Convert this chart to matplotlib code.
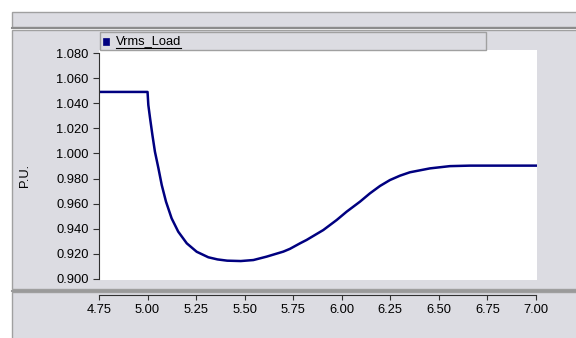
import matplotlib
matplotlib.use("Agg")
import matplotlib.pyplot as plt
from matplotlib.patches import Rectangle
from matplotlib.lines import Line2D

# data (time in s, voltage in p.u.)
time_s = [4.75, 5.000, 5.004, 5.013, 5.025, 5.038, 5.056, 5.073, 5.095, 5.124,
          5.158, 5.202, 5.253, 5.313, 5.360, 5.410, 5.480, 5.545, 5.613, 5.699,
          5.733, 5.785, 5.819, 5.905, 5.974, 6.025, 6.094, 6.145, 6.197, 6.248,
          6.300, 6.351, 6.454, 6.557, 6.660, 6.80, 7.00]
vrms_load = [1.0490, 1.0490, 1.0386, 1.0280, 1.0147, 1.0014, 0.9882, 0.9749, 0.9616, 0.9483,
             0.9377, 0.9284, 0.9217, 0.9173, 0.9156, 0.9146, 0.9143, 0.9151, 0.9178, 0.9218,
             0.9240, 0.9284, 0.9311, 0.9390, 0.9470, 0.9536, 0.9616, 0.9682, 0.9741, 0.9788,
             0.9823, 0.9850, 0.9881, 0.9899, 0.9903, 0.9903, 0.9903]
series_name = "Vrms_Load"
y_ticks = [0.900, 0.920, 0.940, 0.960, 0.980, 1.000, 1.020, 1.040, 1.060, 1.080]
x_ticks = [4.75, 5.00, 5.25, 5.50, 5.75, 6.00, 6.25, 6.50, 6.75, 7.00]

W, H = 576, 338
panel = "#dcdce2"
border = "#a0a0a0"
navy = "#000080"
plt.rcParams['font.family'] = ['Liberation Sans', 'DejaVu Sans']
plt.rcParams['font.size'] = 9.3


def fx(px):
    return px / W


def fy(py):
    return 1 - py / H


def box(x0, y0, x1, y1, **kw):
    r = Rectangle((fx(x0), fy(y1)), (x1 - x0) / W, (y1 - y0) / H,
                  transform=fig.transFigure, **kw)
    fig.add_artist(r)
    return r


def hline(x0, x1, y, **kw):
    fig.add_artist(Line2D([fx(x0), fx(x1)], [fy(y), fy(y)],
                          transform=fig.transFigure, **kw))


fig = plt.figure(figsize=(W / 100, H / 100), dpi=100, facecolor="white")

# background panels
box(12, 12, 580, 27, facecolor=panel, edgecolor=border, lw=1, zorder=-2)
hline(12, 580, 27.5, color="#8c8c8c", lw=1.5, zorder=-1)
box(12, 30, 580, 289, facecolor=panel, edgecolor=border, lw=1, zorder=-2)
hline(12, 580, 290.7, color="#9a9a9a", lw=1.5, zorder=-1)
box(12, 292, 580, 345, facecolor=panel, edgecolor=border, lw=1, zorder=-2)

# main plot
ax = fig.add_axes([fx(99), fy(280), (537 - 99) / W, (280 - 50) / H])
ax.set_facecolor("white")
ax.plot(time_s, vrms_load, color=navy, lw=1.8, solid_joinstyle="round")
ax.set_xlim(4.75, 4.75 + 438 / 194.2)
ax.set_ylim(0.8992, 1.0824)
for s in ["top", "right", "bottom"]:
    ax.spines[s].set_visible(False)
ax.spines["left"].set_bounds(0.900, 1.080)
ax.spines["left"].set_color("#303030")
ax.set_yticks(y_ticks)
ax.set_yticklabels([f"{v:.3f}" for v in y_ticks])
ax.tick_params(axis="y", direction="out", length=4.5, width=0.8, color="#303030", pad=3)
ax.set_xticks([])

# separate x axis in the bottom panel
axx = fig.add_axes([fx(99), fy(295), (537 - 99) / W, 0.001])
axx.patch.set_visible(False)
for s in ["top", "right", "left"]:
    axx.spines[s].set_visible(False)
axx.spines["bottom"].set_color("#303030")
axx.set_xlim(ax.get_xlim())
axx.spines["bottom"].set_bounds(4.75, 7.00)
axx.set_yticks([])
axx.set_xticks(x_ticks)
axx.set_xticklabels([f"{v:.2f}" for v in x_ticks])
axx.tick_params(axis="x", direction="out", length=3.5, width=0.8, color="#303030", pad=3)

fig.text(fx(25), fy(175), "P.U.", rotation=90, ha="center", va="center")

# legend strip
box(100, 32, 486, 50, facecolor=panel, edgecolor=border, lw=1, zorder=5)
box(103, 38, 109, 45, facecolor=navy, edgecolor=navy, lw=0.5, zorder=6)
t = fig.text(fx(116), fy(41.5), series_name, ha="left", va="center", zorder=6)
fig.canvas.draw()
bb = t.get_window_extent().transformed(fig.transFigure.inverted())
fig.add_artist(Line2D([bb.x0, bb.x1], [fy(48), fy(48)], transform=fig.transFigure,
                      color="black", lw=0.8, zorder=6))

fig.savefig("out.png", dpi=100)
